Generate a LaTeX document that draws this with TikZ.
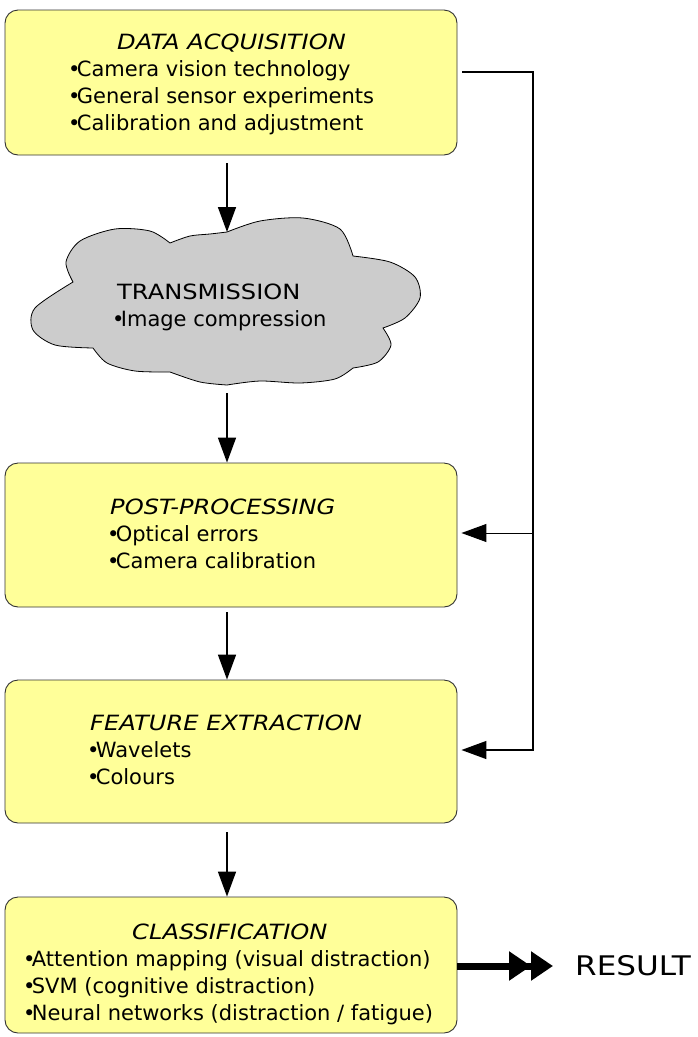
\documentclass[tikz,border=0pt]{standalone}
\usepackage{fontspec}
\setmainfont{DejaVu Sans}
\newfontfamily\capsfont[FakeStretch=1.15]{DejaVu Sans}
\usetikzlibrary{arrows.meta,calc}

\definecolor{boxyellow}{RGB}{255,255,153}
\definecolor{cloudgray}{RGB}{204,204,204}

% small bullet set close to the following word
\newcommand\bul{\kern-0.15em•\kern-0.17em}

\tikzset{
  stagebox/.style={draw=black!80, line width=0.9pt, fill=boxyellow,
    rounded corners=13pt, minimum width=452pt, inner sep=0pt},
  title/.style={inner sep=0pt, anchor=west,
    font=\fontsize{21}{25}\capsfont\itshape,
    text height=15.3pt, text depth=0pt},
  item/.style={inner sep=0pt, anchor=west, font=\fontsize{21}{25}\selectfont,
    text height=15.3pt, text depth=0pt},
  flow/.style={line width=1.6pt, -{Triangle[length=25pt,width=18pt]}},
  feed/.style={line width=1.4pt, -{Triangle[length=25pt,width=18pt]}},
  outflow/.style={line width=7pt,
    -{Triangle[length=22pt,width=28pt]Triangle[length=22pt,width=28pt]}},
}

\begin{document}
\begin{tikzpicture}[x=1pt,y=-1pt]
\useasboundingbox (0,0) rectangle (697,1037);

% processing stages
\node[stagebox, minimum height=145pt] (acq)  at (231,82.5) {};
\node[stagebox, minimum height=144pt] (post) at (231,535)  {};
\node[stagebox, minimum height=143pt] (feat) at (231,751.5) {};
\node[stagebox, minimum height=136pt] (cls)  at (231,965)  {};

% transmission cloud, one puff after the other
\coordinate (cloudtop) at (227,232);
\coordinate (cloudbot) at (227,385);
\draw[fill=cloudgray, line width=0.8pt]
  plot[smooth] coordinates {(73,282) (66,262) (80,241) (115,229) (150,231) (170,243)}
  -- plot[smooth] coordinates {(170,243) (190,236) (210,234) (227,232)}
  -- plot[smooth] coordinates {(227,232) (260,221) (303,218) (340,229) (353,256)}
  -- plot[smooth] coordinates {(353,256) (390,262) (415,277) (420,298) (405,318) (383,328)}
  -- plot[smooth] coordinates {(383,328) (391,345) (378,362) (353,368)}
  -- plot[smooth] coordinates {(353,368) (335,379) (300,383) (260,381) (227,385)}
  -- plot[smooth] coordinates {(227,385) (200,382) (170,372)}
  -- plot[smooth] coordinates {(170,372) (135,371) (107,363) (93,348)}
  -- plot[smooth] coordinates {(93,348) (55,345) (33,330) (35,308) (73,282)}
  -- cycle;

% texts
\node[title] (acqT) at (117,42) {DATA ACQUISITION};
\node[item] (acq1) at (71,69)  {\bul Camera vision technology};
\node[item] (acq2) at (71,96)  {\bul General sensor experiments};
\node[item] (acq3) at (71,123) {\bul Calibration and adjustment};

\node[item, font=\fontsize{21}{25}\capsfont] (tr0) at (117,292) {TRANSMISSION};
\node[item] (tr1) at (115,319) {\bul Image compression};

\node[title] (postT) at (110,507) {POST-PROCESSING};
\node[item] (post1) at (110,534) {\bul Optical errors};
\node[item] (post2) at (110,561) {\bul Camera calibration};

\node[title] (featT) at (90,723) {FEATURE EXTRACTION};
\node[item] (feat1) at (90,750) {\bul Wavelets};
\node[item] (feat2) at (90,777) {\bul Colours};

\node[title] (clsT) at (132,932) {CLASSIFICATION};
\node[item] (cls1) at (26,959)  {\bul Attention mapping (visual distraction)};
\node[item] (cls2) at (26,986)  {\bul SVM (cognitive distraction)};
\node[item] (cls3) at (26,1013) {\bul Neural networks (distraction / fatigue)};

\node[inner sep=0pt, anchor=west, font=\fontsize{27}{30}\capsfont,
  text height=19.7pt, text depth=0pt] (result) at (575,966) {RESULT};

% main flow
\draw[flow] ([xshift=-4pt,yshift=-8pt]acq.south) -- (cloudtop);
\draw[flow] ([yshift=-8pt]cloudbot) -- ([xshift=-4pt]post.north);
\draw[flow] ([xshift=-4pt,yshift=-5pt]post.south) -- ([xshift=-4pt]feat.north);
\draw[flow] ([xshift=-4pt,yshift=-9pt]feat.south) -- ([xshift=-4pt]cls.north);

% feedback from acquisition to later stages
\coordinate (busTop) at (533,72);
\coordinate (busMid) at (533,533);
\coordinate (busBot) at (533,750);
\draw[feed, shorten >=4pt] ([xshift=5pt]acq.east |- busTop) -- (busTop) -- (busBot) -- (busBot -| feat.east);
\draw[feed, line width=1pt, shorten >=4pt] (busMid) -- (busMid -| post.east);

% output
\draw[outflow, shorten >=22pt] (cls.east |- result.west) -- (result.west);
\end{tikzpicture}
\end{document}
